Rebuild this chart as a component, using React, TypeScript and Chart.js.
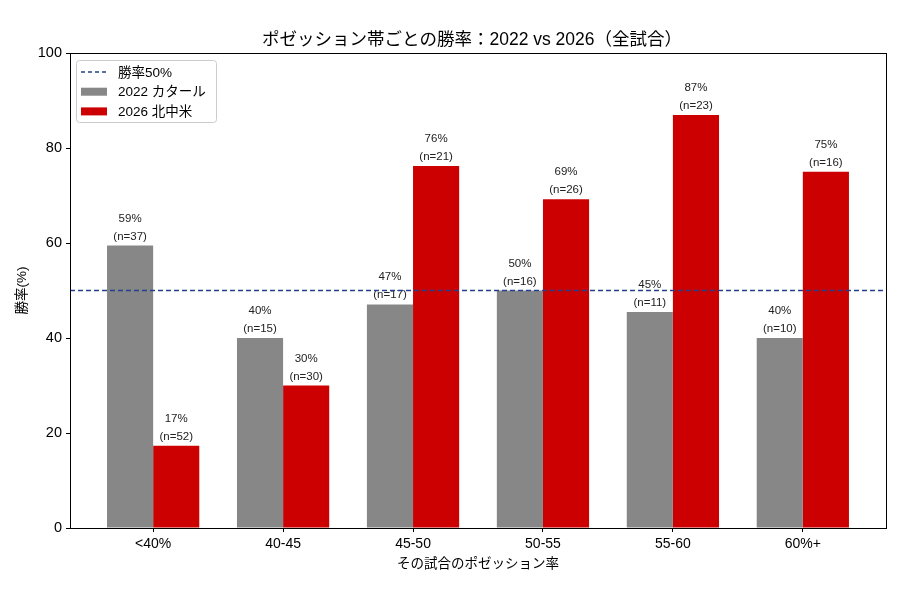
import React, { useEffect, useRef } from "react";
import { Chart, registerables } from "chart.js";

Chart.register(...registerables);

const titleText = "ポゼッション帯ごとの勝率：2022 vs 2026（全試合）";
const xAxisTitle = "その試合のポゼッション率";
const yAxisTitle = "勝率(%)";
const categories = ["<40%", "40-45", "45-50", "50-55", "55-60", "60%+"];
const series2022Label = "2022 カタール";
const series2026Label = "2026 北中米";
const refLabel = "勝率50%";
const rate2022 = [59.46, 40.0, 47.06, 50.0, 45.45, 40.0];
const n2022 = [37, 15, 17, 16, 11, 10];
const rate2026 = [17.31, 30.0, 76.19, 69.23, 86.96, 75.0];
const n2026 = [52, 30, 21, 26, 23, 16];
const refValue = 50;
const yTicks = [0, 20, 40, 60, 80, 100];

const FONT = "'Liberation Sans', 'Noto Sans CJK JP', sans-serif";
const GRAY = "#878787";
const RED = "#cc0000";
const NAVY = "#23408e";

export default function App() {
  const ref = useRef<HTMLCanvasElement | null>(null);

  useEffect(() => {
    if (!ref.current) return;
    const xMin = -0.64;
    const xMax = categories.length - 1 + 0.64;

    const decor = {
      id: "decor",
      afterDatasetsDraw(chart: any) {
        const ctx = chart.ctx;
        const a = chart.chartArea;
        ctx.save();
        // value labels
        ctx.fillStyle = "#222";
        ctx.font = `11.5px ${FONT}`;
        ctx.textAlign = "center";
        ctx.textBaseline = "alphabetic";
        const pairs: [number, number[]][] = [
          [1, n2022],
          [2, n2026],
        ];
        pairs.forEach(([di, ns]) => {
          const meta = chart.getDatasetMeta(di);
          const vals = di === 1 ? rate2022 : rate2026;
          meta.data.forEach((el: any, i: number) => {
            ctx.fillText(`(n=${ns[i]})`, el.x, el.y - 6);
            ctx.fillText(`${Math.round(vals[i])}%`, el.x, el.y - 24);
          });
        });
        // reference line on top
        const yPix = chart.scales.y.getPixelForValue(refValue);
        ctx.strokeStyle = NAVY;
        ctx.lineWidth = 1.3;
        ctx.setLineDash([5, 3]);
        ctx.beginPath();
        ctx.moveTo(a.left, yPix);
        ctx.lineTo(a.right, yPix);
        ctx.stroke();
        ctx.setLineDash([]);
        // frame
        ctx.strokeStyle = "#000";
        ctx.lineWidth = 1;
        ctx.strokeRect(a.left + 0.5, a.top + 0.5, a.right - a.left, a.bottom - a.top);
        // title
        ctx.fillStyle = "#000";
        ctx.font = `17.5px ${FONT}`;
        ctx.textBaseline = "middle";
        ctx.fillText(titleText, 472, 40);
        // axis titles
        ctx.font = `13.5px ${FONT}`;
        ctx.fillText(xAxisTitle, (a.left + a.right) / 2, 564);
        ctx.save();
        ctx.translate(22, (a.top + a.bottom) / 2);
        ctx.rotate(-Math.PI / 2);
        ctx.fillText(yAxisTitle, 0, 0);
        ctx.restore();
        // legend
        const lx = a.left + 6;
        const ly = a.top + 7;
        const lw = 140;
        const lh = 62;
        ctx.fillStyle = "rgba(255,255,255,0.85)";
        ctx.strokeStyle = "#cccccc";
        ctx.lineWidth = 1;
        ctx.beginPath();
        (ctx as any).roundRect(lx + 0.5, ly + 0.5, lw, lh, 3);
        ctx.fill();
        ctx.stroke();
        const rows = [refLabel, series2022Label, series2026Label];
        ctx.font = `13.5px ${FONT}`;
        ctx.textAlign = "left";
        rows.forEach((lab, i) => {
          const cy = ly + 12 + i * 19.7;
          if (i === 0) {
            ctx.strokeStyle = NAVY;
            ctx.lineWidth = 1.3;
            ctx.setLineDash([4, 3]);
            ctx.beginPath();
            ctx.moveTo(lx + 5, cy);
            ctx.lineTo(lx + 31, cy);
            ctx.stroke();
            ctx.setLineDash([]);
          } else {
            ctx.fillStyle = i === 1 ? GRAY : RED;
            ctx.fillRect(lx + 5, cy - 4, 26, 8);
          }
          ctx.fillStyle = "#000";
          ctx.fillText(lab, lx + 42, cy + 1);
        });
        ctx.restore();
      },
    };

    const chart = new Chart(ref.current, {
      type: "bar",
      data: {
        datasets: [
          {
            type: "line",
            label: refLabel,
            data: [
              { x: xMin, y: refValue },
              { x: xMax, y: refValue },
            ],
            borderWidth: 0,
            pointRadius: 0,
            showLine: false,
          } as any,
          {
            label: series2022Label,
            data: categories.map((_, i) => ({ x: i, y: rate2022[i] })),
            backgroundColor: GRAY,
            categoryPercentage: 0.71,
            barPercentage: 1,
          },
          {
            label: series2026Label,
            data: categories.map((_, i) => ({ x: i, y: rate2026[i] })),
            backgroundColor: RED,
            categoryPercentage: 0.71,
            barPercentage: 1,
          },
        ],
      },
      options: {
        responsive: false,
        animation: false,
        layout: { padding: { left: 0, top: 53, right: 14, bottom: 0 } },
        plugins: {
          legend: { display: false },
          tooltip: { enabled: false },
          title: { display: false },
        },
        scales: {
          x: {
            type: "linear",
            min: xMin,
            max: xMax,
            offset: false,
            afterBuildTicks: (s: any) => {
              s.ticks = categories.map((_, i) => ({ value: i }));
            },
            afterFit: (s: any) => {
              s.height = 72;
            },
            ticks: {
              callback: (v: any) => categories[Math.round(Number(v))] ?? "",
              color: "#000",
              font: { family: FONT, size: 14 },
              padding: 4,
              maxRotation: 0,
              autoSkip: false,
            },
            grid: {
              offset: false,
              drawOnChartArea: false,
              drawTicks: true,
              tickLength: 4,
              tickColor: "#000",
            },
            border: { display: false },
          },
          y: {
            min: 0,
            max: 100,
            afterBuildTicks: (s: any) => {
              s.ticks = yTicks.map((v) => ({ value: v }));
            },
            afterFit: (s: any) => {
              s.width = 70;
            },
            ticks: {
              color: "#000",
              font: { family: FONT, size: 14.5 },
              padding: 4,
            },
            grid: {
              offset: false,
              drawOnChartArea: false,
              drawTicks: true,
              tickLength: 4,
              tickColor: "#000",
            },
            border: { display: false },
          },
        },
      },
      plugins: [decor],
    } as any);
    return () => chart.destroy();
  }, []);

  return (
    <div style={{ position: "fixed", left: 0, top: 0, width: 900, height: 600, background: "#fff" }}>
      <canvas ref={ref} width={900} height={600} />
    </div>
  );
}
